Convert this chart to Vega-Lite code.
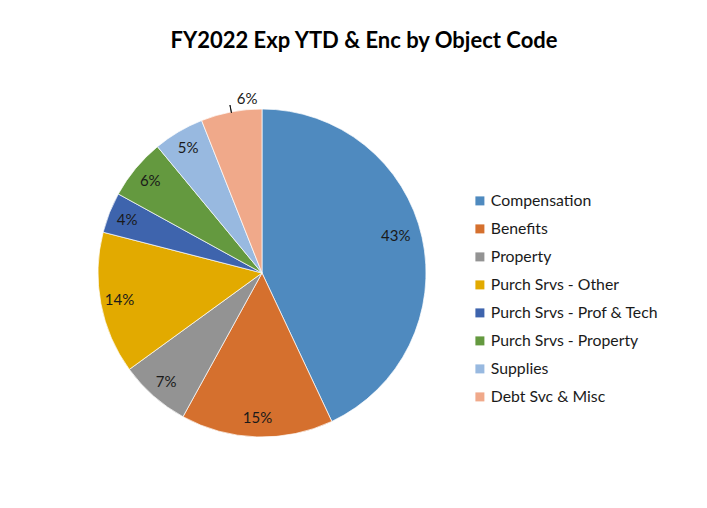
{
  "$schema": "https://vega.github.io/schema/vega-lite/v6.json",
  "width": 328,
  "height": 328,
  "autosize": "none",
  "padding": {"left": 98, "top": 109, "right": 281, "bottom": 71},
  "background": "white",
  "title": {
    "text": "FY2022 Exp YTD & Enc by Object Code",
    "font": "Lato",
    "fontSize": 22,
    "fontWeight": "bold",
    "color": "#000000",
    "anchor": "middle",
    "frame": "group",
    "dx": 102,
    "offset": 39
  },
  "config": {"view": {"stroke": null}},
  "data": {
    "values": [
      {"idx": 1, "category": "Compensation", "pct": 0.43},
      {"idx": 2, "category": "Benefits", "pct": 0.15},
      {"idx": 3, "category": "Property", "pct": 0.07},
      {"idx": 4, "category": "Purch Srvs - Other", "pct": 0.14},
      {"idx": 5, "category": "Purch Srvs - Prof & Tech", "pct": 0.04},
      {"idx": 6, "category": "Purch Srvs - Property", "pct": 0.06},
      {"idx": 7, "category": "Supplies", "pct": 0.05},
      {"idx": 8, "category": "Debt Svc & Misc", "pct": 0.06}
    ]
  },
  "transform": [
    {"stack": "pct", "groupby": [], "sort": [{"field": "idx", "order": "ascending"}], "as": ["s0", "s1"]},
    {"calculate": "(datum.s0 + datum.s1) / 2", "as": "mid"}
  ],
  "layer": [
    {
      "mark": {"type": "arc", "stroke": "white", "strokeWidth": 0.7},
      "encoding": {
        "theta": {"field": "s0", "type": "quantitative", "scale": {"domain": [0, 1]}},
        "theta2": {"field": "s1"},
        "color": {
          "field": "category",
          "type": "nominal",
          "sort": ["Compensation", "Benefits", "Property", "Purch Srvs - Other", "Purch Srvs - Prof & Tech", "Purch Srvs - Property", "Supplies", "Debt Svc & Misc"],
          "scale": {
            "domain": ["Compensation", "Benefits", "Property", "Purch Srvs - Other", "Purch Srvs - Prof & Tech", "Purch Srvs - Property", "Supplies", "Debt Svc & Misc"],
            "range": ["#4F8ABF", "#D5702E", "#939393", "#E2AA00", "#3E64AD", "#64993F", "#98B9E0", "#F0A98A"]
          },
          "legend": {
            "title": null,
            "orient": "none",
            "legendX": 374,
            "legendY": 84,
            "symbolType": "square",
            "symbolSize": 81,
            "symbolStrokeWidth": 0,
            "labelFont": "Lato",
            "labelFontSize": 15.8,
            "labelColor": "#1a1a1a",
            "labelOffset": 3,
            "rowPadding": 11,
            "labelLimit": 300
          }
        }
      }
    },
    {
      "transform": [{"filter": "datum.idx > 1 && datum.idx < 8"}],
      "mark": {"type": "text", "radius": 145, "font": "Lato", "fontSize": 15, "color": "#1a1a1a"},
      "encoding": {
        "theta": {"field": "mid", "type": "quantitative"},
        "text": {"field": "pct", "type": "quantitative", "format": ".0%"}
      }
    },
    {
      "transform": [{"filter": "datum.idx == 1"}],
      "mark": {"type": "text", "radius": 137, "dy": -7, "font": "Lato", "fontSize": 15, "color": "#1a1a1a"},
      "encoding": {
        "theta": {"field": "mid", "type": "quantitative"},
        "text": {"field": "pct", "type": "quantitative", "format": ".0%"}
      }
    },
    {
      "transform": [{"filter": "datum.idx == 8"}],
      "mark": {"type": "text", "radius": 175, "dx": 18, "dy": -2, "font": "Lato", "fontSize": 15, "color": "#1a1a1a"},
      "encoding": {
        "theta": {"field": "mid", "type": "quantitative"},
        "text": {"field": "pct", "type": "quantitative", "format": ".0%"}
      }
    },
    {
      "transform": [{"filter": "datum.idx == 8"}],
      "mark": {"type": "arc", "radius": 171, "radius2": 163, "stroke": "#000000", "strokeWidth": 0.8, "fill": null},
      "encoding": {
        "theta": {"field": "mid", "type": "quantitative"},
        "theta2": {"field": "mid"}
      }
    }
  ]
}
